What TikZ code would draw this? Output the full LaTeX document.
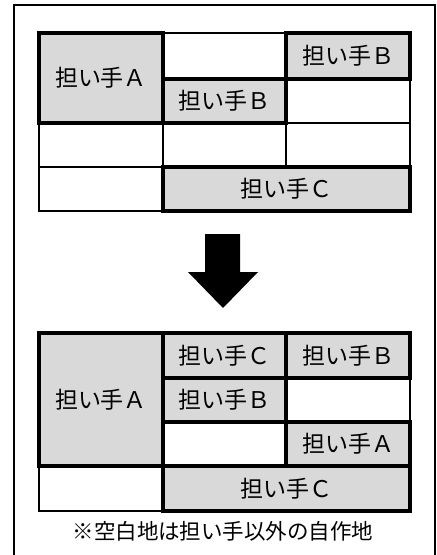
\documentclass[tikz,border=0pt]{standalone}
\usepackage{fontspec}
\newfontfamily\jp{Noto Sans CJK JP}
\definecolor{cellgray}{HTML}{D9D9D9}
\tikzset{
  plain/.style={draw=black, line width=2pt, fill=white, inner sep=0pt},
  held/.style={draw=black, line width=3.5pt, fill=cellgray, inner sep=0pt, font=\jp\fontsize{23}{26}\selectfont},
  caption/.style={font=\jp\fontsize{21.5}{24}\selectfont, inner sep=0pt},
}
\newcommand\mkcell[7]{\node[#1, minimum width={(#5)-(#3)}, minimum height={(#6)-(#4)}]
  (#2) at ({((#3)+(#5))/2},{((#4)+(#6))/2}) {#7};}
\begin{document}
\begin{tikzpicture}[x=1pt,y=-1pt]
\useasboundingbox (0,0) rectangle (437,555);
\fill[white] (0,0) rectangle (437,555);
% outer frame (bottom lies below the picture)
\draw[line width=1.6pt] (14,580) -- (14,5) -- (435,5) -- (435,580);

% ---- top grid ----
\mkcell{plain}{t12}{163}{33}{286}{79}{}
\mkcell{plain}{t23}{286}{79}{410}{123}{}
\mkcell{plain}{t31}{39}{123}{163}{167}{}
\mkcell{plain}{t32}{163}{123}{286}{167}{}
\mkcell{plain}{t33}{286}{123}{410}{167}{}
\mkcell{plain}{t41}{39}{167}{163}{211}{}
\mkcell{held}{tA}{39}{33}{163}{123}{担い手Ａ}
\mkcell{held}{tB1}{286}{33}{410}{79}{担い手Ｂ}
\mkcell{held}{tB2}{163}{79}{286}{123}{担い手Ｂ}
\mkcell{held}{tC}{163}{167}{410}{211}{担い手Ｃ}

% ---- arrow ----
\fill[black] (205,234) -- (240,234) -- (240,272) -- (258,272) -- (223,308)
  -- (188,272) -- (205,272) -- cycle;

% ---- bottom grid ----
\mkcell{plain}{b23}{286}{378}{410}{422}{}
\mkcell{plain}{b32}{163}{422}{286}{466}{}
\mkcell{plain}{b41}{39}{466}{163}{511}{}
\mkcell{held}{bA}{39}{333}{163}{466}{担い手Ａ}
\mkcell{held}{bC1}{163}{333}{286}{378}{担い手Ｃ}
\mkcell{held}{bB1}{286}{333}{410}{378}{担い手Ｂ}
\mkcell{held}{bB2}{163}{378}{286}{422}{担い手Ｂ}
\mkcell{held}{bA2}{286}{422}{410}{466}{担い手Ａ}
\mkcell{held}{bC}{163}{466}{410}{511}{担い手Ｃ}

\node[caption] (note) at (223,531) {※空白地は担い手以外の自作地};
\end{tikzpicture}
\end{document}
